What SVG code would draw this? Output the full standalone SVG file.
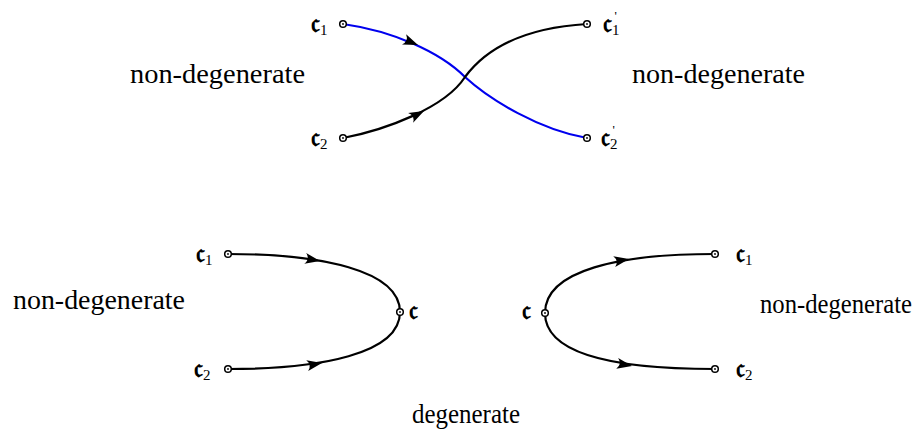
<svg xmlns="http://www.w3.org/2000/svg" width="923" height="434" viewBox="0 0 923 434">
<style>
.lbl{font-family:"Liberation Serif","Times New Roman",serif;font-size:28px;fill:#000}
.fr{font-family:"DejaVu Serif","DejaVu Sans","Noto Sans",serif;font-size:28px;font-weight:bold;fill:#000}
.sub{font-family:"Liberation Serif",serif;font-size:15px;font-weight:normal}
.pr{font-family:"Liberation Serif",serif;font-size:13px;font-weight:normal}
.c{fill:none;stroke:#000;stroke-width:2.2}
.blue{stroke:#0000ee}
.pt{fill:#fff;stroke:#000;stroke-width:1.5}
.dot{fill:#000}
</style>
<defs>
<path id="ah" d="M0,0 L-15,-5.5 Q-10,0 -15,5.5 Z" fill="#000"/>
<g id="node"><circle r="3.3" class="pt"/><circle r="0.9" class="dot"/></g>
</defs>
<g id="connectors">
<path class="c blue" d="M343,24 C393,31 440,52 465,77 C490,100 540,130 587,138"/>
<path class="c" d="M343,138 C385,130 445,108 465,77 C485,50 520,28 587,24"/>
<path class="c" d="M228,254 C320,254 400,270 400,312"/>
<path class="c" d="M228,369 C320,369 400,354 400,312"/>
<path class="c" d="M545,313 C545,270 620,254 715,254"/>
<path class="c" d="M545,313 C545,356 620,369 715,369"/>
<use href="#ah" transform="translate(418,45) rotate(22)"/>
<use href="#ah" transform="translate(424,111) rotate(-27)"/>
<use href="#ah" transform="translate(320,261) rotate(10)"/>
<use href="#ah" transform="translate(322,363) rotate(-10)"/>
<use href="#ah" transform="translate(629,259) rotate(-10)"/>
<use href="#ah" transform="translate(632,366) rotate(10)"/>
</g>
<g id="top-c1"><use href="#node" x="343" y="24"/><text class="fr" x="311" y="32">𝔠<tspan class="sub" dy="3">1</tspan></text></g>
<g id="top-c2"><use href="#node" x="343" y="138"/><text class="fr" x="311" y="146">𝔠<tspan class="sub" dy="3">2</tspan></text></g>
<g id="top-c1p"><use href="#node" x="587" y="24"/><text class="fr" x="603" y="32">𝔠<tspan class="sub" dy="3">1</tspan><tspan class="pr" dx="-5" dy="-15">'</tspan></text></g>
<g id="top-c2p"><use href="#node" x="587" y="138"/><text class="fr" x="601" y="146">𝔠<tspan class="sub" dy="3">2</tspan><tspan class="pr" dx="-5" dy="-15">'</tspan></text></g>
<g id="bl-c1"><use href="#node" x="228" y="254"/><text class="fr" x="196" y="262">𝔠<tspan class="sub" dy="3">1</tspan></text></g>
<g id="bl-c2"><use href="#node" x="228" y="369"/><text class="fr" x="194" y="377">𝔠<tspan class="sub" dy="3">2</tspan></text></g>
<g id="bl-c"><use href="#node" x="400" y="312"/><text class="fr" x="409" y="319">𝔠</text></g>
<g id="br-c"><use href="#node" x="545" y="313"/><text class="fr" x="522" y="319">𝔠</text></g>
<g id="br-c1"><use href="#node" x="715" y="254"/><text class="fr" x="736" y="262">𝔠<tspan class="sub" dy="3">1</tspan></text></g>
<g id="br-c2"><use href="#node" x="715" y="369"/><text class="fr" x="736" y="377">𝔠<tspan class="sub" dy="3">2</tspan></text></g>
<g id="labels">
<text class="lbl" x="130" y="83" textLength="175" lengthAdjust="spacingAndGlyphs">non-degenerate</text>
<text class="lbl" x="632" y="83" textLength="173" lengthAdjust="spacingAndGlyphs">non-degenerate</text>
<text class="lbl" x="13" y="309" textLength="172" lengthAdjust="spacingAndGlyphs">non-degenerate</text>
<text class="lbl" x="760" y="313" font-size="24" textLength="152" lengthAdjust="spacingAndGlyphs">non-degenerate</text>
<text class="lbl" x="412" y="423" font-size="25" textLength="108" lengthAdjust="spacingAndGlyphs">degenerate</text>
</g>
</svg>
